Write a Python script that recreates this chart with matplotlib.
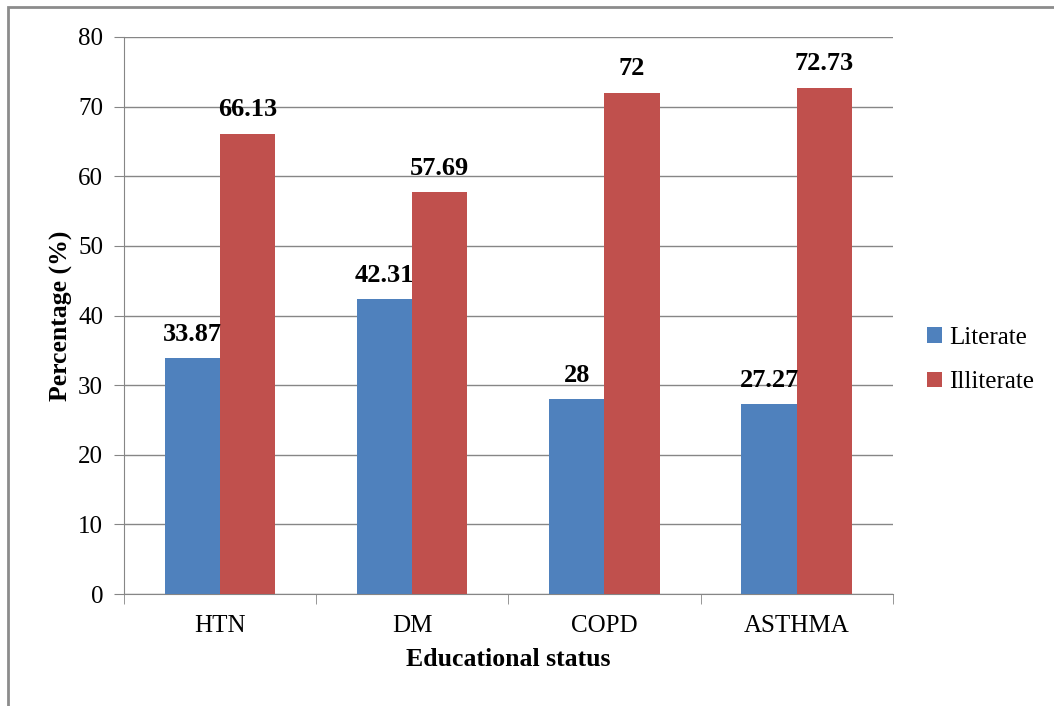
#import libraries for graphing
import matplotlib.pyplot as plt
import numpy as np
from matplotlib.patches import Rectangle

#chart data
diseases = ["HTN", "DM", "COPD", "ASTHMA"]
literate = [33.87, 42.31, 28, 27.27]
illiterate = [66.13, 57.69, 72, 72.73]
series_names = ["Literate", "Illiterate"]

plt.rcParams['font.family'] = ['Liberation Serif', 'DejaVu Serif']

fig = plt.figure(figsize=(10.54, 7.06), dpi=100)
ax = fig.add_axes([0.1176, 0.1586, 0.7294, 0.789])

x = np.arange(len(diseases))
w = 0.287
b1 = ax.bar(x - w / 2, literate, w, color='#4f81bd', label=series_names[0], zorder=3)
b2 = ax.bar(x + w / 2, illiterate, w, color='#c0504d', label=series_names[1], zorder=3)

#value labels above the bars
for bars, vals in [(b1, literate), (b2, illiterate)]:
    for rect, v in zip(bars, vals):
        ax.annotate("{:g}".format(v), (rect.get_x() + rect.get_width() / 2, v),
                    xytext=(0, 9), textcoords='offset points', ha='center', va='bottom',
                    fontsize=19, fontweight='bold', zorder=4)

ax.set_xlim(-0.5, 3.5)
ax.set_ylim(0, 80)
ax.set_yticks(range(0, 81, 10))
ax.set_xticks(x)
ax.set_xticklabels(diseases)
ax.set_xticks(np.arange(-0.5, 4, 1), minor=True)
ax.tick_params(axis='x', which='major', length=0, pad=15, labelsize=18)
ax.tick_params(axis='x', which='minor', length=7, color='#868686', direction='out')
ax.tick_params(axis='y', length=7, color='#868686', labelsize=18, pad=8)
ax.grid(axis='y', color='#868686', linewidth=1, zorder=0)

for s in ['top', 'right']:
    ax.spines[s].set_visible(False)
for s in ['left', 'bottom']:
    ax.spines[s].set_color('#868686')

ax.set_xlabel("Educational status", fontsize=18.5, fontweight='bold', labelpad=8)
ax.set_ylabel("Percentage (%)", fontsize=18.5, fontweight='bold', labelpad=4)

fig.legend(handles=[b1, b2], loc='center left', bbox_to_anchor=(0.858, 0.49),
           frameon=False, fontsize=18, handlelength=0.6, handleheight=0.6,
           handletextpad=0.3, labelspacing=0.9)

#outer border of the chart area
fig.patches.append(Rectangle((0.008, -0.05), 1.05, 1.04, transform=fig.transFigure,
                             fill=False, edgecolor='#8c8c8c', linewidth=2))

plt.savefig("out.png", dpi=100)
